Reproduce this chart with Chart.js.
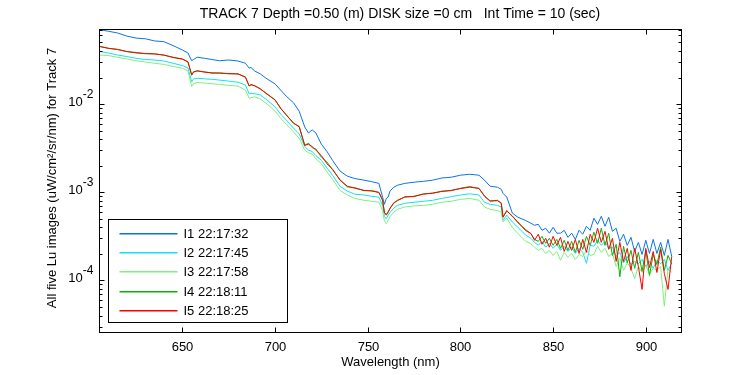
<!DOCTYPE html>
<html>
<head>
<meta charset="utf-8">
<script src="https://cdn.jsdelivr.net/npm/chart.js@4/dist/chart.umd.min.js"></script>
<style>
  html, body { margin: 0; padding: 0; background: #fff; }
  #wrap { width: 750px; height: 375px; }
</style>
</head>
<body>
<div id="wrap"><canvas id="chart" width="750" height="375"></canvas></div>
<script>
// wavelength (nm) shared by all five scans
const wavelength = [
  605, 610, 615, 620, 625, 630, 635, 640, 645, 650,
  653, 655, 656, 658, 662, 666, 670, 675, 680, 684,
  686, 687, 689, 692, 695, 700, 703, 706, 710, 713,
  716, 718, 720, 722, 725, 728, 731, 735, 739, 743,
  748, 752, 756, 758, 759, 760, 761, 762, 764, 766,
  770, 775, 780, 785, 790, 795, 800, 805, 810, 813,
  816, 820, 822, 823, 825, 828, 831, 835, 838,
  840, 842, 844, 846, 848, 850, 852, 854, 856, 858,
  860, 862, 864, 866, 868, 870, 872, 874, 876, 878,
  880, 882, 884, 886, 888, 890, 892, 894, 896, 898,
  900, 902, 904, 906, 908, 910, 912, 914
];

const i1 = [
  0.070, 0.067, 0.064, 0.059, 0.056, 0.055, 0.052, 0.051, 0.046, 0.041,
  0.038, 0.031, 0.032, 0.034, 0.033, 0.032, 0.031, 0.0316, 0.0308, 0.029,
  0.0256, 0.026, 0.0237, 0.022, 0.0197, 0.0169, 0.0144, 0.0123, 0.0103, 0.0083,
  0.0055, 0.0047, 0.0051, 0.0047, 0.0035, 0.0029, 0.0023, 0.00174, 0.00152, 0.00143,
  0.00137, 0.00132, 0.00126, 0.00088, 0.00073, 0.00085, 0.00088, 0.00103, 0.00114, 0.0012,
  0.00126, 0.0013, 0.00133, 0.00137, 0.00145, 0.00148, 0.00156, 0.0016, 0.00156, 0.00137,
  0.00117, 0.00114, 0.00108, 0.00097, 0.00088, 0.00058, 0.00052, 0.00048, 0.000445,
  0.000422, 0.000433, 0.00037, 0.00039, 0.000343, 0.0004, 0.000343, 0.000343, 0.00037, 0.000308,
  0.000343, 0.000292, 0.00037, 0.000334, 0.000411, 0.00037, 0.000507, 0.000433, 0.000534, 0.000411,
  0.00052, 0.00036, 0.00039, 0.000277, 0.000334, 0.00025, 0.000308, 0.000213, 0.00027, 0.000197,
  0.000285, 0.000202, 0.000292, 0.000202, 0.00027, 0.000192, 0.000292, 0.000187
];

const i2 = [
  0.0395, 0.038, 0.036, 0.0346, 0.033, 0.032, 0.0316, 0.0308, 0.029, 0.0273,
  0.0257, 0.0179, 0.0193, 0.0196, 0.0193, 0.0191, 0.0187, 0.0182, 0.0177, 0.0164,
  0.0131, 0.0132, 0.0131, 0.0127, 0.0114, 0.0093, 0.0077, 0.0066, 0.0053, 0.0046,
  0.0033, 0.003, 0.0029, 0.0026, 0.0023, 0.00188, 0.00156, 0.00117, 0.00103, 0.00095,
  0.00093, 0.0009, 0.00088, 0.00071, 0.00053, 0.0005, 0.00055, 0.00059, 0.00066, 0.00071,
  0.00075, 0.00077, 0.00079, 0.00081, 0.00085, 0.00089, 0.00093, 0.00096, 0.00093, 0.00077,
  0.00073, 0.00071, 0.00068, 0.00048, 0.00055, 0.00046, 0.0004, 0.00033, 0.0003,
  0.00027, 0.00025, 0.000277, 0.000238, 0.000263, 0.000231, 0.000257, 0.000219, 0.000244, 0.000213,
  0.000238, 0.000202, 0.000231, 0.000208, 0.000156, 0.00025, 0.000244, 0.000285, 0.00025, 0.000277,
  0.000231, 0.000238, 0.000187, 0.000208, 0.000158, 0.000187, 0.000151, 0.000164, 0.000154, 0.000173,
  0.000144, 0.000165, 0.000137, 0.000169, 0.000154, 0.000173, 0.00013, 0.000158
];

const i3 = [
  0.036, 0.0355, 0.0339, 0.0325, 0.031, 0.030, 0.029, 0.0282, 0.0267, 0.0255,
  0.0237, 0.0158, 0.017, 0.0176, 0.0173, 0.017, 0.0167, 0.0163, 0.016, 0.0144,
  0.0116, 0.0118, 0.0121, 0.0114, 0.0103, 0.0083, 0.0069, 0.0059, 0.0048, 0.0041,
  0.003, 0.0028, 0.0027, 0.0024, 0.0021, 0.0017, 0.0014, 0.00105, 0.00093, 0.00085,
  0.00081, 0.00079, 0.00077, 0.00062, 0.00047, 0.00044, 0.00048, 0.00053, 0.00059, 0.00064,
  0.00068, 0.0007, 0.00071, 0.00073, 0.00077, 0.00079, 0.00083, 0.00085, 0.00081, 0.00068,
  0.00064, 0.00062, 0.00059, 0.00046, 0.00051, 0.0004, 0.00034, 0.00028, 0.00026,
  0.000238, 0.000219, 0.000231, 0.000202, 0.000219, 0.000192, 0.000213, 0.000169, 0.000208, 0.000182,
  0.000202, 0.000173, 0.000197, 0.000187, 0.000219, 0.000192, 0.000197, 0.000244, 0.000208, 0.000231,
  0.000187, 0.000202, 0.000144, 0.000178, 0.00013, 0.000158, 0.000137, 0.000105, 0.000144, 0.000123,
  0.000148, 0.000117, 0.000137, 0.00013, 0.000144, 0.000051, 0.000137, 0.000123
];

const i4 = [
  0.0455, 0.0428, 0.0418, 0.0393, 0.0385, 0.0372, 0.0372, 0.0358, 0.034, 0.0322,
  0.0302, 0.0212, 0.0233, 0.0236, 0.0232, 0.0224, 0.0226, 0.022, 0.0221, 0.0201,
  0.016, 0.0167, 0.016, 0.015, 0.0132, 0.0112, 0.0089, 0.0076, 0.006, 0.0056,
  0.0034, 0.0036, 0.0032, 0.0031, 0.0025, 0.0022, 0.0018, 0.00139, 0.00115, 0.00113,
  0.00104, 0.00105, 0.00099, 0.00082, 0.00058, 0.00056, 0.0006, 0.00065, 0.00076, 0.0008,
  0.00089, 0.00089, 0.00096, 0.00097, 0.00103, 0.00104, 0.00111, 0.00116, 0.0011, 0.00091,
  0.0008, 0.0008, 0.00076, 0.00053, 0.00061, 0.00054, 0.00045, 0.00038, 0.00034,
  0.000292, 0.000277, 0.000316, 0.000263, 0.0003, 0.00025, 0.000292, 0.000231, 0.000285, 0.000219,
  0.000277, 0.000208, 0.000285, 0.000225, 0.000316, 0.00025, 0.000352, 0.000263, 0.00039, 0.00025,
  0.000343, 0.000192, 0.000257, 0.00011, 0.000244, 0.000158, 0.000219, 0.000137, 0.000208, 0.000127,
  0.000219, 0.000114, 0.000197, 0.000151, 0.000238, 0.00013, 0.000192, 0.000154
];

const i5 = [
  0.045, 0.043, 0.0415, 0.0395, 0.038, 0.0375, 0.037, 0.036, 0.0337, 0.0325,
  0.030, 0.0214, 0.023, 0.0239, 0.023, 0.0226, 0.0224, 0.0222, 0.0219, 0.0203,
  0.0161, 0.0165, 0.0162, 0.0148, 0.0134, 0.0111, 0.009, 0.0075, 0.0061, 0.0055,
  0.0034, 0.0035, 0.0033, 0.003, 0.0026, 0.0021, 0.00183, 0.00137, 0.00117, 0.00111,
  0.00105, 0.00103, 0.001, 0.00081, 0.00059, 0.00055, 0.00059, 0.00066, 0.00075, 0.00081,
  0.00088, 0.0009, 0.00095, 0.00098, 0.00102, 0.00105, 0.0011, 0.00114, 0.00111, 0.0009,
  0.00079, 0.00081, 0.00075, 0.00052, 0.00062, 0.00053, 0.00046, 0.00037, 0.00034,
  0.000285, 0.000334, 0.000257, 0.0003, 0.000238, 0.000316, 0.00025, 0.000308, 0.000213, 0.000277,
  0.000219, 0.000292, 0.000202, 0.000292, 0.000208, 0.000334, 0.00027, 0.00039, 0.00027, 0.00036,
  0.000225, 0.0003, 0.000164, 0.00027, 0.000164, 0.000231, 0.00013, 0.000231, 0.000144, 0.000079,
  0.000231, 0.00014, 0.000213, 0.000123, 0.000225, 0.00012, 0.000079, 0.000187
];

const seriesNames = ['I1 22:17:32', 'I2 22:17:45', 'I3 22:17:58', 'I4 22:18:11', 'I5 22:18:25'];
const seriesColors = ['#0a74e6', '#12e2ea', '#7ef07e', '#00b800', '#ff0000'];
const xTicks = [650, 700, 750, 800, 850, 900];
const yTicks = [1e-4, 1e-3, 1e-2];

const titleText = 'TRACK 7 Depth =0.50 (m) DISK size =0 cm   Int Time = 10 (sec)';
const xTitle = 'Wavelength (nm)';
const yTitle = 'All five Lu images (uW/cm\u00B2/sr/nm) for Track 7';

const FONT = "'Liberation Sans', Arial, sans-serif";

const allSeries = [i1, i2, i3, i4, i5];
const datasets = allSeries.map((vals, k) => ({
  label: seriesNames[k],
  data: vals.map((v, j) => ({ x: wavelength[j], y: v })),
  borderColor: seriesColors[k],
  backgroundColor: seriesColors[k],
  borderWidth: 1,
  pointRadius: 0,
  tension: 0,
  fill: false,
  order: 5 - k,
}));

// matlab style box, inward ticks, labels and legend
const matlabAxes = {
  id: 'matlabAxes',
  afterDatasetsDraw(chart) {
    const ctx = chart.ctx;
    const { left, right, top, bottom } = chart.chartArea;
    const xs = chart.scales.x;
    const ys = chart.scales.y;
    const L = Math.round(left) + 0.5, R = Math.round(right) + 0.5;
    const T = Math.round(top) + 0.5, B = Math.round(bottom) + 0.5;

    ctx.save();
    ctx.strokeStyle = '#000';
    ctx.fillStyle = '#000';
    ctx.lineWidth = 1;
    ctx.strokeRect(L, T, R - L, B - T);

    // x ticks
    ctx.font = '13px ' + FONT;
    ctx.textAlign = 'center';
    ctx.textBaseline = 'middle';
    xTicks.forEach(v => {
      const px = Math.round(xs.getPixelForValue(v)) + 0.5;
      ctx.beginPath();
      ctx.moveTo(px, B); ctx.lineTo(px, B - 5);
      ctx.moveTo(px, T); ctx.lineTo(px, T + 5);
      ctx.stroke();
      ctx.fillText(String(v), px, B + 15);
    });

    // y ticks, major and minor
    const d0 = Math.floor(Math.log10(ys.min));
    const d1 = Math.ceil(Math.log10(ys.max));
    for (let d = d0; d <= d1; d++) {
      for (let k = 1; k <= 9; k++) {
        const v = k * Math.pow(10, d);
        if (v < ys.min || v > ys.max) continue;
        const py = Math.round(ys.getPixelForValue(v)) + 0.5;
        const len = k === 1 ? 5 : 3;
        ctx.beginPath();
        ctx.moveTo(L, py); ctx.lineTo(L + len, py);
        ctx.moveTo(R, py); ctx.lineTo(R - len, py);
        ctx.stroke();
      }
    }
    yTicks.forEach(v => {
      const py = ys.getPixelForValue(v);
      const ex = String(Math.round(Math.log10(v)));
      ctx.textAlign = 'right';
      ctx.textBaseline = 'alphabetic';
      ctx.font = '12px ' + FONT;
      const exW = ctx.measureText(ex).width;
      ctx.fillText(ex, L - 6, py - 6);
      ctx.font = '13px ' + FONT;
      ctx.fillText('10', L - 6 - exW, py + 2);
    });

    // titles
    ctx.textAlign = 'center';
    ctx.textBaseline = 'middle';
    ctx.font = '14px ' + FONT;
    ctx.fillText(titleText, 400, 14);
    ctx.font = '13px ' + FONT;
    ctx.fillText(xTitle, (L + R) / 2, 362);
    ctx.save();
    ctx.translate(52, (T + B) / 2 - 3);
    ctx.rotate(-Math.PI / 2);
    ctx.fillText(yTitle, 0, 0);
    ctx.restore();

    // legend box
    const bx = L + 9, by = B - 113, bw = 179, bh = 103;
    ctx.fillStyle = '#fff';
    ctx.fillRect(bx, by, bw, bh);
    ctx.strokeRect(bx, by, bw, bh);
    ctx.textAlign = 'left';
    ctx.textBaseline = 'middle';
    ctx.font = '13px ' + FONT;
    seriesNames.forEach((name, k) => {
      const ry = Math.round(by + 13 + k * 19.4);
      ctx.fillStyle = seriesColors[k];
      ctx.fillRect(bx + 11, ry, 58, 1.5);
      ctx.fillStyle = '#000';
      ctx.fillText(name, bx + 75, ry + 1);
    });
    ctx.restore();
  }
};

new Chart(document.getElementById('chart'), {
  type: 'line',
  data: { datasets },
  options: {
    responsive: false,
    animation: false,
    events: [],
    layout: { padding: { left: 99, right: 69, top: 29, bottom: 43 } },
    plugins: { legend: { display: false }, tooltip: { enabled: false }, title: { display: false } },
    scales: {
      x: { type: 'linear', min: 605, max: 919, display: false },
      y: { type: 'logarithmic', min: 2.6e-5, max: 0.071, display: false }
    }
  },
  plugins: [matlabAxes]
});
</script>
</body>
</html>
